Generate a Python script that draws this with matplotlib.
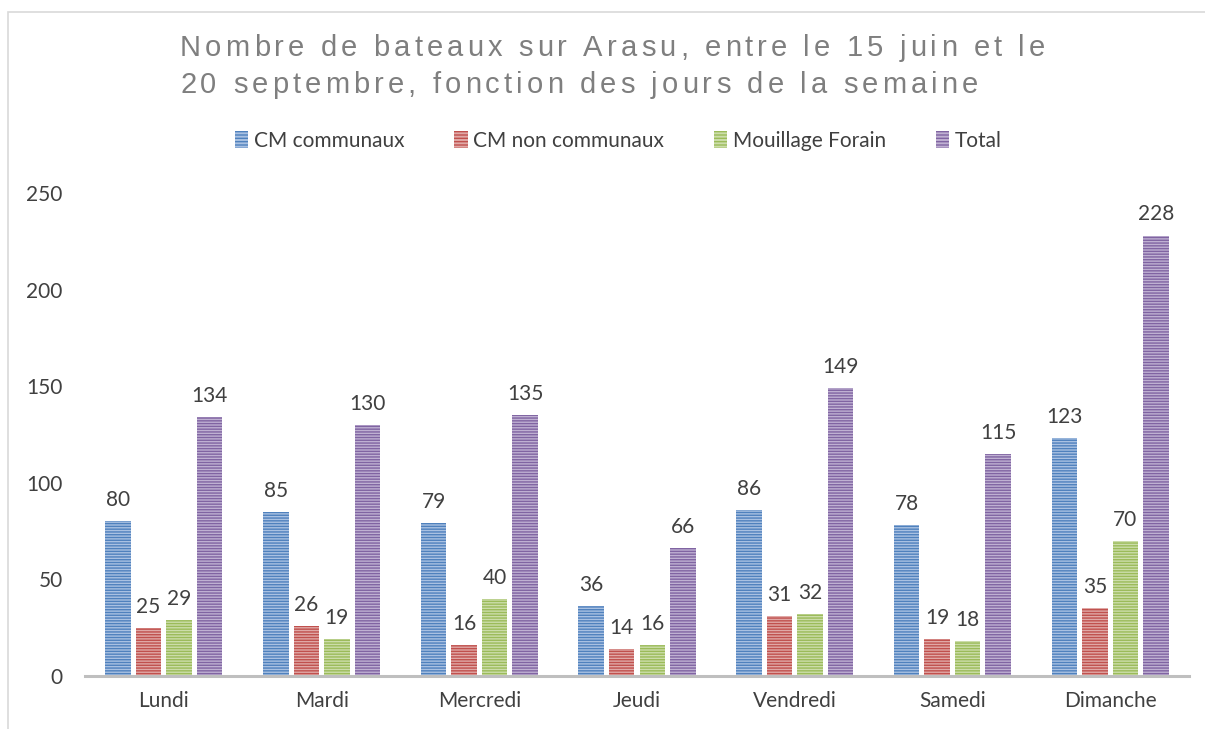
import matplotlib
matplotlib.use("Agg")
import matplotlib.pyplot as plt
import numpy as np
from matplotlib.textpath import text_to_path
from matplotlib.font_manager import FontProperties
from matplotlib.patches import Rectangle, Patch

days = ["Lundi", "Mardi", "Mercredi", "Jeudi", "Vendredi", "Samedi", "Dimanche"]
series_names = ["CM communaux", "CM non communaux", "Mouillage Forain", "Total"]
cm_communaux = [80, 85, 79, 36, 86, 78, 123]
cm_non_communaux = [25, 26, 16, 14, 31, 19, 35]
mouillage_forain = [29, 19, 40, 16, 32, 18, 70]
total = [134, 130, 135, 66, 149, 115, 228]
title_lines = ["Nombre de bateaux sur Arasu, entre le 15 juin et le",
               "20 septembre, fonction des jours de la semaine"]
yticks = [0, 50, 100, 150, 200, 250]

dark = ["#4F81BD", "#C0504D", "#9BBB59", "#8064A2"]
light = ["#A9C1E2", "#E0A8A6", "#CCDDAA", "#BFB0D2"]

plt.rcParams['hatch.linewidth'] = 1.0
W, H = 1205, 729
fig = plt.figure(figsize=(W/100, H/100), dpi=100)
fig.patch.set_facecolor("white")
fig.patches.append(Rectangle((8/W, -0.01), 1.1, 1 - 12/H + 0.01, transform=fig.transFigure,
                             fill=False, edgecolor="#d9d9d9", linewidth=1.2))

ax = fig.add_axes([85/W, 1 - 676/H, (1189-85)/W, (676-193)/H])
data = [cm_communaux, cm_non_communaux, mouillage_forain, total]
x = np.arange(len(days))
bw = 25.5/157.7
step = 30.5/157.7
for i, vals in enumerate(data):
    pos = x + (i - 1.5) * step
    bars = ax.bar(pos, vals, width=bw, color=light[i], edgecolor=dark[i], hatch="------",
                  linewidth=0, zorder=2)
    for b, v in zip(bars, vals):
        ax.annotate(str(v), (b.get_x() + b.get_width()/2, v), xytext=(0, 8),
                    textcoords="offset points", ha="center", va="bottom",
                    fontsize=15, color="#404040", family="Lato")

ax.set_xlim(-0.5, len(days) - 0.5)
ax.set_ylim(0, 250)
ax.set_yticks(yticks)
ax.set_xticks(x)
ax.set_xticklabels(days)
for s in ["top", "right", "left"]:
    ax.spines[s].set_visible(False)
ax.spines["bottom"].set_color("#bfbfbf")
ax.spines["bottom"].set_linewidth(2.2)
ax.tick_params(axis="both", length=0, labelsize=15, labelcolor="#404040")
ax.tick_params(axis="y", pad=16)
ax.tick_params(axis="x", pad=11)
for lab in ax.get_xticklabels() + ax.get_yticklabels():
    lab.set_family("Lato")

handles = [Patch(facecolor=light[i], edgecolor=dark[i], hatch="-----", linewidth=0)
           for i in range(4)]
fig.legend(handles, series_names, loc="center", bbox_to_anchor=(0.513, 1 - 141/H), ncol=4,
           frameon=False, prop=FontProperties(family="Lato", size=15), labelcolor="#404040",
           handlelength=0.65, handleheight=0.85, handletextpad=0.25, columnspacing=2.4)

# letter-spaced title
prop = FontProperties(family="Liberation Sans", size=21)
targets = [(180, 48, 1045), (180, 85, 978)]
for line, (x0, yc, x1) in zip(title_lines, targets):
    widths = []
    for ch in line:
        w, h, d = text_to_path.get_text_width_height_descent(ch, prop, ismath=False)
        widths.append(w * 100 / 72)
    natural = sum(widths)
    sp = (x1 - x0 - natural) / (len(line) - 1)
    cx = x0
    for ch, w in zip(line, widths):
        if ch != " ":
            fig.text(cx / W, 1 - yc / H, ch, fontproperties=prop, color="#7f7f7f",
                     ha="left", va="center")
        cx += w + sp

fig.savefig("out.png", dpi=100)
